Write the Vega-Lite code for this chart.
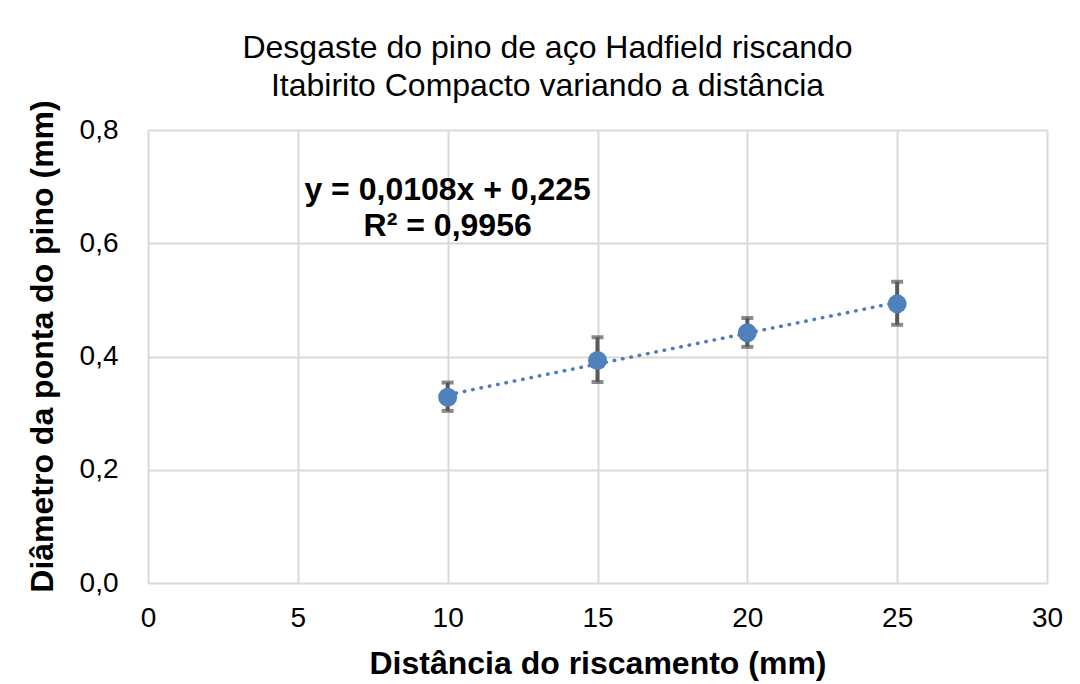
{
  "$schema": "https://vega.github.io/schema/vega-lite/v6.json",
  "width": 899,
  "height": 453,
  "autosize": {"type": "none"},
  "padding": {"left": 148, "top": 130, "right": 33, "bottom": 101},
  "background": "white",
  "config": {
    "font": "Liberation Sans",
    "view": {"stroke": null},
    "axis": {
      "gridColor": "#d9d9d9",
      "gridWidth": 2,
      "domain": false,
      "ticks": false,
      "labelFlush": false,
      "labelFont": "Liberation Sans",
      "labelFontSize": 28,
      "labelColor": "#000000",
      "titleFont": "Liberation Sans",
      "titleFontSize": 32,
      "titleFontWeight": "bold",
      "titleColor": "#000000"
    }
  },
  "title": {
    "text": ["Desgaste do pino de aço Hadfield riscando", "Itabirito Compacto variando a distância"],
    "fontSize": 32,
    "fontWeight": "normal",
    "font": "Liberation Sans",
    "color": "#000000",
    "lineHeight": 38,
    "anchor": "middle",
    "dx": -50,
    "offset": -3
  },
  "datasets": {
    "pts": [
      {"dist": 10, "diam": 0.328, "lo": 0.304, "hi": 0.354},
      {"dist": 15, "diam": 0.393, "lo": 0.355, "hi": 0.434},
      {"dist": 20, "diam": 0.442, "lo": 0.417, "hi": 0.468},
      {"dist": 25, "diam": 0.493, "lo": 0.456, "hi": 0.532}
    ],
    "notes": [
      {"dist": 10, "diam": 0.694, "label": "y = 0,0108x + 0,225"},
      {"dist": 10, "diam": 0.630, "label": "R² = 0,9956"}
    ]
  },
  "layer": [
    {
      "data": {"name": "pts"},
      "transform": [{"regression": "diam", "on": "dist", "extent": [10, 25]}],
      "mark": {"type": "line", "color": "#4a7ebb", "strokeWidth": 3.5, "strokeDash": [0.5, 8], "strokeCap": "round"},
      "encoding": {
        "x": {"field": "dist", "type": "quantitative", "scale": {"domain": [0, 30], "nice": false},
          "axis": {"values": [0, 5, 10, 15, 20, 25, 30], "title": "Distância do riscamento (mm)", "labelPadding": 21, "titleBaseline": "middle", "titleY": 80}},
        "y": {"field": "diam", "type": "quantitative", "scale": {"domain": [0, 0.8], "nice": false},
          "axis": {"values": [0, 0.2, 0.4, 0.6, 0.8], "labelExpr": "replace(format(datum.value, '.1f'), '.', ',')", "title": "Diâmetro da ponta do pino (mm)", "labelPadding": 30, "titleBaseline": "middle", "titleX": -106, "titleY": 216}}
      }
    },
    {
      "data": {"name": "pts"},
      "mark": {"type": "rule", "color": "#595959", "strokeWidth": 4},
      "encoding": {
        "x": {"field": "dist", "type": "quantitative"},
        "y": {"field": "lo", "type": "quantitative"},
        "y2": {"field": "hi"}
      }
    },
    {
      "data": {"name": "pts"},
      "mark": {"type": "tick", "color": "#595959", "thickness": 4, "size": 12, "orient": "horizontal"},
      "encoding": {
        "x": {"field": "dist", "type": "quantitative"},
        "y": {"field": "lo", "type": "quantitative"}
      }
    },
    {
      "data": {"name": "pts"},
      "mark": {"type": "tick", "color": "#595959", "thickness": 4, "size": 12, "orient": "horizontal"},
      "encoding": {
        "x": {"field": "dist", "type": "quantitative"},
        "y": {"field": "hi", "type": "quantitative"}
      }
    },
    {
      "data": {"name": "pts"},
      "mark": {"type": "point", "filled": true, "color": "#4f81bd", "opacity": 1, "size": 360, "shape": "circle"},
      "encoding": {
        "x": {"field": "dist", "type": "quantitative"},
        "y": {"field": "diam", "type": "quantitative"}
      }
    },
    {
      "data": {"name": "notes"},
      "mark": {"type": "text", "fontSize": 32, "fontWeight": "bold", "font": "Liberation Sans", "color": "#000000", "align": "center", "baseline": "middle"},
      "encoding": {
        "x": {"field": "dist", "type": "quantitative"},
        "y": {"field": "diam", "type": "quantitative"},
        "text": {"field": "label"}
      }
    }
  ]
}
